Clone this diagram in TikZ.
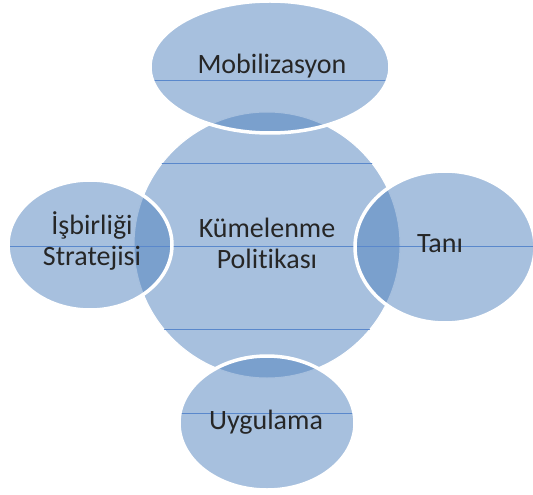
\documentclass[tikz,border=0pt]{standalone}
\usepackage{fontspec}
\setmainfont{Carlito}[Ligatures=NoCommon]
\definecolor{petalblue}{RGB}{79,129,189}
\definecolor{ruleblue}{RGB}{90,136,204}
\begin{document}
\begin{tikzpicture}[x=1bp,y=-1bp,
  petal/.style={fill=petalblue, fill opacity=0.5},
  seam/.style={draw=white, line width=1bp},
  rim/.style={draw=white, line width=3.5bp},
  rule/.style={draw=ruleblue, line width=0.9bp},
  caption/.style={font=\fontsize{28bp}{31bp}\selectfont, text=black!85, align=center, inner sep=0pt}]

\useasboundingbox (0,0) rectangle (533,495);

% centres of the five shapes
\coordinate (hub)  at (267,245);
\coordinate (mob)  at (270,67);
\coordinate (isb)  at (90,245);
\coordinate (tani) at (445,247);
\coordinate (uyg)  at (267,423);

% shape outlines, reused for fill, rules and rims
\def\hubpath{(hub) circle[radius=133]}
\def\mobpath{(mob) ellipse[x radius=120, y radius=66]}
\def\isbpath{(isb) ellipse[x radius=82, y radius=65]}
\def\tanipath{(tani) ellipse[x radius=90, y radius=76]}
\def\uygpath{(uyg) ellipse[x radius=88, y radius=67]}

% central circle
\fill[petal] \hubpath;
\draw[seam] \hubpath;

% surrounding ellipses, translucent so overlaps darken
\fill[petal] \mobpath;
\fill[petal] \isbpath;
\fill[petal] \tanipath;
\fill[petal] \uygpath;

% thin horizontal rules, kept inside the shapes
\foreach \shape in {\hubpath,\mobpath,\isbpath,\tanipath,\uygpath}{
  \begin{scope}
    \expandafter\clip\shape;
    \foreach \yy in {80,163,246,329,413}
      \draw[rule] (0,\yy) -- (533,\yy);
  \end{scope}
}

% white rims of the outer ellipses
\draw[rim] \mobpath;
\draw[rim] \isbpath;
\draw[rim] \tanipath;
\draw[rim] \uygpath;

% labels
\node[caption] (hub-label)  at (267,243) {Kümelenme\\Politikası};
\node[caption] (mob-label)  at (272,66)  {Mobilizasyon};
\node[caption] (isb-label)  at (92,241)  {İşbirliği\\Stratejisi};
\node[caption] (tani-label) at (440,244) {Tanı};
\node[caption] (uyg-label)  at (266,422) {Uygulama};
\end{tikzpicture}
\end{document}
